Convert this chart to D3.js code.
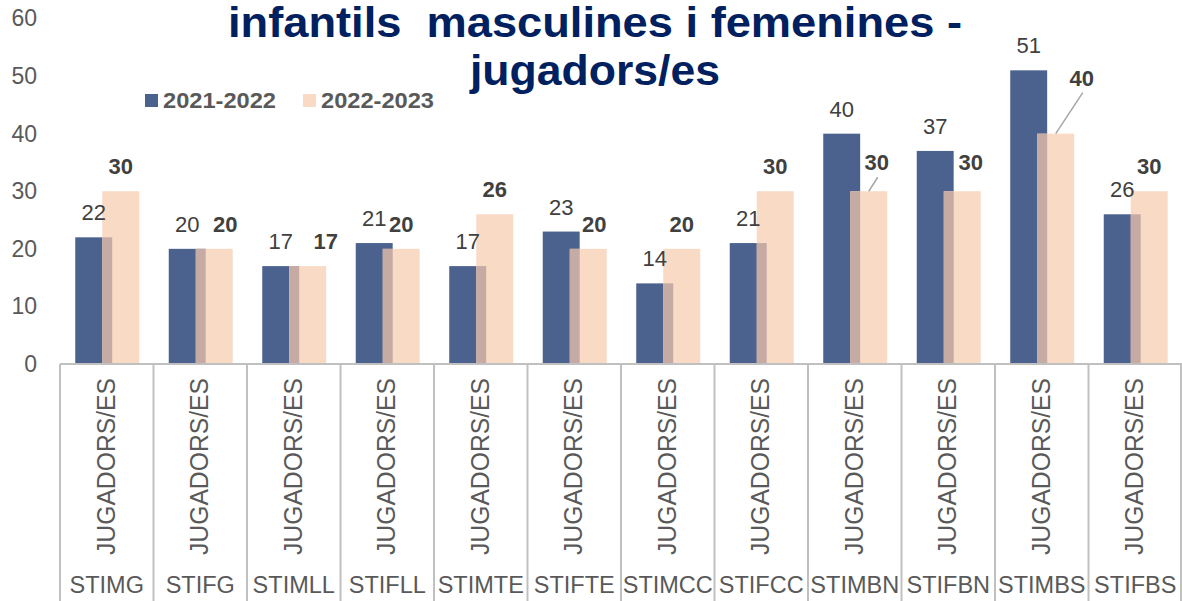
<!DOCTYPE html>
<html>
<head>
<meta charset="utf-8">
<script src="https://cdn.jsdelivr.net/npm/d3@7"></script>
<style>
  body { margin: 0; background: #fff; }
  svg { display: block; font-family: "Liberation Sans", Arial, sans-serif; }
</style>
</head>
<body>
<svg width="1182" height="601"></svg>
<script>
// data
var categories = ["STIMG", "STIFG", "STIMLL", "STIFLL", "STIMTE", "STIFTE",
    "STIMCC", "STIFCC", "STIMBN", "STIFBN", "STIMBS", "STIFBS"];
var subLabel = "JUGADORS/ES";
var series = ["2021-2022", "2022-2023"];
var values2122 = [22, 20, 17, 21, 17, 23, 14, 21, 40, 37, 51, 26];
var values2223 = [30, 20, 17, 20, 26, 20, 20, 30, 30, 30, 40, 30];
var yTicks = [0, 10, 20, 30, 40, 50, 60];

// label nudges for the 2022-2023 labels (excel moved some of them)
var nudgeX = [0, 11, 18, 0, 0, 6, 0, 0, 8, 8.5, 26, 0];
var nudgeY = [0, 0, 0, 0, 0, 0, 0, 0, -4, -4, -31, 0];
var leader = [false, false, false, false, false, false, false, false, true, false, true, false];

var svg = d3.select("svg"),
    width = +svg.attr("width"),
    height = +svg.attr("height");

var plotLeft = 60, plotRight = 1182, plotBase = 364, plotTop = 18.5;

var colorA = "#4b628f",
    colorB = "#f8dac5",
    overlapColor = "#c6aaa4",
    textGrey = "#595959",
    labelGrey = "#404040",
    lineGrey = "#c0c0c0";

var x = d3.scaleBand().domain(categories).range([plotLeft, plotRight]).padding(0);
var y = d3.scaleLinear().domain([0, 60]).range([plotBase, plotTop]);

var bw = x.bandwidth();
var barW = bw * 0.395;
var offA = bw * 0.163;
var offB = bw * 0.452;

// title
var title = svg.append("text")
    .attr("fill", "#002060")
    .style("font-weight", "bold")
    .style("font-size", "42px")
    .style("white-space", "pre")
    .attr("text-anchor", "middle");
title.append("tspan").attr("x", 595).attr("y", 37)
    .attr("textLength", 734).attr("lengthAdjust", "spacingAndGlyphs")
    .text("infantils  masculines i femenines -");
title.append("tspan").attr("x", 595).attr("y", 85)
    .attr("textLength", 250).attr("lengthAdjust", "spacingAndGlyphs")
    .text("jugadors/es");

// y axis labels
var yAxis = svg.append("g")
    .attr("transform", "translate(" + plotLeft + ",0)")
    .call(d3.axisLeft(y).tickValues(yTicks).tickSize(0).tickPadding(23));
yAxis.select(".domain").remove();
yAxis.selectAll("text")
    .attr("fill", textGrey)
    .style("font-size", "23px")
    .style("font-family", "'Liberation Sans', Arial, sans-serif");

// bars
var groups = svg.append("g").selectAll("g")
    .data(categories)
    .enter().append("g");

groups.append("rect")
    .attr("x", function(d) { return x(d) + offA; })
    .attr("y", function(d, i) { return y(values2122[i]); })
    .attr("width", barW)
    .attr("height", function(d, i) { return plotBase - y(values2122[i]); })
    .attr("fill", colorA);

groups.append("rect")
    .attr("x", function(d) { return x(d) + offB; })
    .attr("y", function(d, i) { return y(values2223[i]); })
    .attr("width", barW)
    .attr("height", function(d, i) { return plotBase - y(values2223[i]); })
    .attr("fill", colorB);

// the part where the bars overlap
groups.append("rect")
    .attr("x", function(d) { return x(d) + offB; })
    .attr("y", function(d, i) { return y(Math.min(values2122[i], values2223[i])); })
    .attr("width", offA + barW - offB)
    .attr("height", function(d, i) { return plotBase - y(Math.min(values2122[i], values2223[i])); })
    .attr("fill", overlapColor);

// value labels
groups.append("text")
    .attr("x", function(d) { return x(d) + offA + barW / 2; })
    .attr("y", function(d, i) { return y(values2122[i]) - 17; })
    .attr("text-anchor", "middle")
    .attr("fill", labelGrey)
    .style("font-size", "22px")
    .text(function(d, i) { return values2122[i]; });

groups.append("text")
    .attr("x", function(d, i) { return x(d) + offB + barW / 2 + nudgeX[i]; })
    .attr("y", function(d, i) { return y(values2223[i]) - 17 + nudgeY[i]; })
    .attr("text-anchor", "middle")
    .attr("fill", labelGrey)
    .style("font-size", "22px")
    .style("font-weight", "bold")
    .text(function(d, i) { return values2223[i]; });

// leader lines
groups.filter(function(d, i) { return leader[i]; })
    .append("line")
    .attr("x1", function(d) { var i = categories.indexOf(d); return x(d) + offB + barW / 2 + nudgeX[i] + 1; })
    .attr("y1", function(d) { var i = categories.indexOf(d); return y(values2223[i]) - 25 + nudgeY[i] + 15; })
    .attr("x2", function(d) { return x(d) + offB + barW / 2; })
    .attr("y2", function(d) { var i = categories.indexOf(d); return y(values2223[i]); })
    .attr("stroke", "#a6a6a6")
    .attr("stroke-width", 1.5);

// category axis
svg.append("line")
    .attr("x1", plotLeft).attr("x2", plotRight)
    .attr("y1", plotBase).attr("y2", plotBase)
    .attr("stroke", lineGrey)
    .attr("stroke-width", 2);

var seps = categories.map(function(d) { return x(d); }).concat([plotRight - 1]);
svg.append("g").selectAll("line")
    .data(seps)
    .enter().append("line")
    .attr("x1", function(d) { return d; })
    .attr("x2", function(d) { return d; })
    .attr("y1", plotBase)
    .attr("y2", height)
    .attr("stroke", lineGrey)
    .attr("stroke-width", 2);

svg.append("g").selectAll("text")
    .data(categories)
    .enter().append("text")
    .attr("transform", function(d) {
        return "translate(" + (x(d) + bw / 2 + 8) + ",466.5) rotate(-90)";
    })
    .attr("text-anchor", "middle")
    .attr("fill", textGrey)
    .style("font-size", "25px")
    .attr("textLength", 177)
    .attr("lengthAdjust", "spacingAndGlyphs")
    .text(subLabel);

svg.append("g").selectAll("text")
    .data(categories)
    .enter().append("text")
    .attr("x", function(d) { return x(d) + bw / 2; })
    .attr("y", 593)
    .attr("text-anchor", "middle")
    .attr("fill", textGrey)
    .style("font-size", "23.5px")
    .text(function(d) { return d; });

// legend
var legendX = [145, 303];
var legend = svg.append("g").selectAll("g")
    .data(series)
    .enter().append("g")
    .attr("transform", function(d, i) { return "translate(" + legendX[i] + ",94)"; });
legend.append("rect")
    .attr("width", 13).attr("height", 13)
    .attr("fill", function(d, i) { return i === 0 ? colorA : colorB; });
legend.append("text")
    .attr("x", 18).attr("y", 13.5)
    .attr("fill", textGrey)
    .style("font-size", "22px")
    .style("font-weight", "bold")
    .attr("textLength", 113)
    .attr("lengthAdjust", "spacingAndGlyphs")
    .text(function(d) { return d; });
</script>
</body>
</html>
